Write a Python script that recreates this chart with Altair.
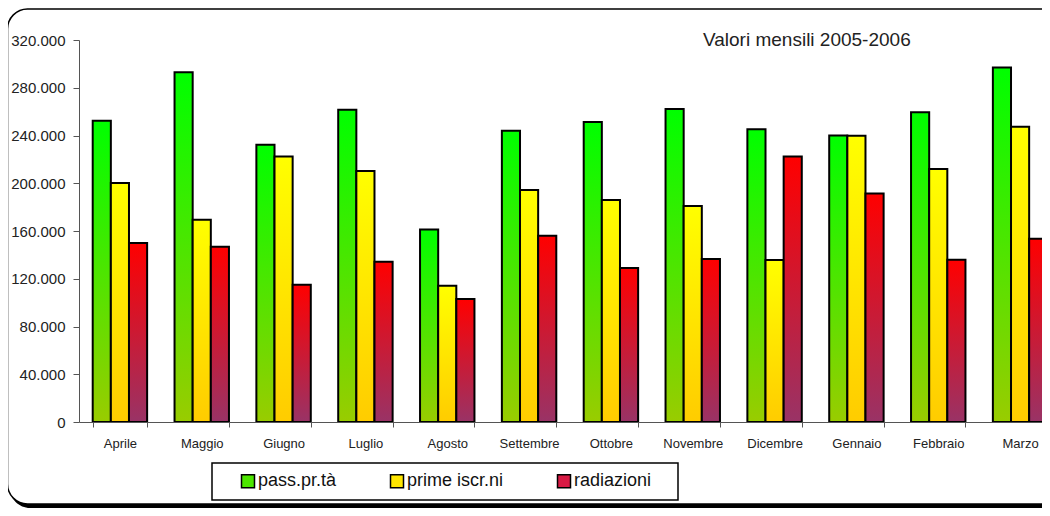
import altair as alt
import pandas as pd

# ---- data ----
months = ["Aprile", "Maggio", "Giugno", "Luglio", "Agosto", "Settembre",
          "Ottobre", "Novembre", "Dicembre", "Gennaio", "Febbraio", "Marzo"]
series = ["pass.pr.tà", "prime iscr.ni", "radiazioni"]
pass_prta = [252400, 292900, 232300, 261600, 161300, 244000,
             251300, 262200, 245300, 240000, 259400, 297000]
prime_iscr = [200300, 169500, 222500, 210300, 114200, 194300,
              186000, 181000, 135700, 239700, 212000, 247400]
radiazioni = [150000, 146800, 115000, 134300, 103000, 156000,
              129000, 136500, 222500, 191500, 136000, 153500]
y_ticks = [0, 40000, 80000, 120000, 160000, 200000, 240000, 280000, 320000]
title_text = "Valori mensili 2005-2006"

# ---- styling ----
FONT = "Liberation Sans, Arial, sans-serif"
grad_top = ["#00FF00", "#FFFF00", "#FF0000"]
grad_bottom = ["#99CC00", "#FFCC00", "#993366"]
legend_colors = ["#4DE600", "#FFE600", "#D81A44"]


def gradient(top, bottom):
    return {"gradient": "linear", "x1": 0, "y1": 0, "x2": 0, "y2": 1,
            "stops": [{"offset": 0, "color": top}, {"offset": 1, "color": bottom}]}


rows = []
for i, vals in enumerate([pass_prta, prime_iscr, radiazioni]):
    for m, v in zip(months, vals):
        rows.append({"month": m, "series": series[i], "s": i, "value": v})
df = pd.DataFrame(rows)

one = pd.DataFrame({"t": [title_text]})
legend_df = pd.DataFrame({"series": series})

fill_def = alt.value(
    gradient(grad_top[2], grad_bottom[2]),
    condition=[
        {"test": "datum.s == 0", "value": gradient(grad_top[0], grad_bottom[0])},
        {"test": "datum.s == 1", "value": gradient(grad_top[1], grad_bottom[1])},
    ],
)

# decorative chart frame with a drop shadow, and the legend box
shadow = alt.Chart(one).mark_rect(fill="black", cornerRadius=20).encode(
    x=alt.value(-69), x2=alt.value(1000), y=alt.value(-28), y2=alt.value(468)
)
frame = alt.Chart(one).mark_rect(fill="white", stroke="black", strokeWidth=1.5,
                                 cornerRadius=20).encode(
    x=alt.value(-71.5), x2=alt.value(997), y=alt.value(-31), y2=alt.value(464)
)
legend_box = alt.Chart(one).mark_rect(fill="white", stroke="black", strokeWidth=1.5).encode(
    x=alt.value(133), x2=alt.value(599), y=alt.value(423), y2=alt.value(460)
)

bars = alt.Chart(df).mark_bar(stroke="black", strokeWidth=2).encode(
    x=alt.X("month:N", sort=months, title=None,
            scale=alt.Scale(paddingInner=0.335, paddingOuter=0.1675, range=[0, 982]),
            axis=alt.Axis(labelAngle=0, labelFont=FONT, labelFontSize=13,
                          labelColor="#222", labelPadding=10, tickBand="extent",
                          tickSize=5, tickColor="#555", domainColor="#555",
                          domainWidth=1, zindex=1)),
    xOffset=alt.XOffset("series:N", sort=series,
                        scale=alt.Scale(domain=series, paddingInner=0, paddingOuter=0)),
    y=alt.Y("value:Q", title=None,
            scale=alt.Scale(domain=[0, 320000], nice=False),
            axis=alt.Axis(values=y_ticks, grid=False, labelFont=FONT, labelFontSize=15,
                          labelColor="#222", labelPadding=8, tickSize=6,
                          tickColor="#555", domainColor="#555", zindex=1,
                          labelExpr="replace(format(datum.value, ','), ',', '.')")),
    fill=fill_def,
)

title = alt.Chart(one).mark_text(font=FONT, fontSize=19, align="left",
                                 baseline="alphabetic", color="#222").encode(
    text="t:N", x=alt.value(624), y=alt.value(6)
)

legend_layer = alt.Chart(legend_df).mark_bar().encode(
    y=alt.datum(0), y2=alt.datum(0),
    color=alt.Color("series:N", sort=series,
                    scale=alt.Scale(domain=series, range=legend_colors),
                    legend=alt.Legend(orient="none", legendX=160, legendY=432,
                                      direction="horizontal", title=None,
                                      symbolType="square", symbolSize=169,
                                      symbolStrokeColor="black", symbolStrokeWidth=1.5,
                                      labelFont=FONT, labelFontSize=18, labelColor="#111",
                                      labelOffset=1, columnPadding=50, padding=0)),
)

chart = alt.layer(shadow, frame, legend_box, bars, title, legend_layer).properties(
    width=963, height=382,
    autosize=alt.AutoSizeParams(type="none"),
    padding={"left": 71, "top": 32, "right": 0, "bottom": 86},
    background="white",
).configure_view(stroke=None)

chart.save("out.html", embed_options={"renderer": "svg", "actions": False})
